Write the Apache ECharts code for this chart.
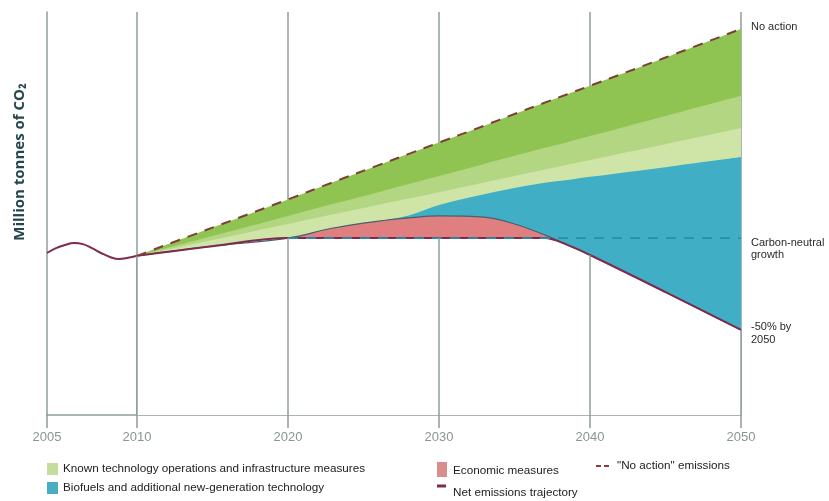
<!DOCTYPE html>
<html>
<head>
<meta charset="utf-8">
<script src="https://cdn.jsdelivr.net/npm/echarts@6/dist/echarts.min.js"></script>
<style>
  html, body { margin: 0; padding: 0; background: #fff; }
  #chart { width: 829px; height: 501px; }
</style>
</head>
<body>
<div id="chart"></div>
<script>
// Historical emissions, 2005–2010 (index, million tonnes of CO2)
const histYears = [2005, 2005.5, 2006, 2006.5, 2007, 2007.5, 2008, 2008.5, 2009, 2009.5, 2010];
const histEmissions = [402, 414, 422, 427, 424, 414, 402, 392, 387, 390, 395];

// Projection years
const projYears = [2010, 2015, 2020, 2023, 2026, 2028, 2030, 2033, 2035, 2037, 2038.5, 2040, 2045, 2050];
// Net emissions trajectory
const netEmissions = [395, 419, 439, 439, 439, 439, 439, 439, 439, 439, 422, 397, 305, 211];
// Emissions before economic measures
const beforeEconomic = [395, 419, 439, 464, 481, 489, 494, 491, 474, 447, 422, 397, 305, 211];
// Emissions before additional technologies and biofuels
const beforeAdditional = [395, 419, 439, 464, 481, 495, 521, 548, 563, 576, 583, 591, 615, 640];
// Emissions before infrastructure measures
const beforeInfrastructure = [395, 434, 474, 498, 522, 537, 553, 577, 593, 609, 621, 633, 672, 712];
// Emissions before operations measures
const beforeOperations = [395, 444, 494, 524, 553, 573, 593, 623, 643, 663, 677, 692, 742, 792];
// "No action" emissions
const noAction = [395, 465, 535, 578, 620, 648, 676, 718, 747, 775, 796, 817, 887, 958];

// Carbon-neutral growth cap from 2020
const carbonNeutralYears = [2020, 2050];
const carbonNeutralLevel = 439;

// Year ticks
const tickYears = [2005, 2010, 2020, 2030, 2040, 2050];

const SMOOTH = 0.35;
const axisGray = '#8e9c9c';
const netColor = '#7d2c4f';

const pairs = (xs, ys) => xs.map((x, i) => [x, ys[i]]);

function band(name, values, color, extra) {
  return Object.assign({
    type: 'line', name, xAxisIndex: 1, yAxisIndex: 1,
    data: pairs(projYears, values), smooth: SMOOTH, symbol: 'none', silent: true,
    lineStyle: { width: 0 }, areaStyle: { color, opacity: 1 }
  }, extra || {});
}

// Vertical year lines below the net trajectory
const gridYearLines = tickYears.filter(y => projYears.includes(y)).map(y => [
  { coord: [y, 0] },
  { coord: [y, netEmissions[projYears.indexOf(y)]] }
]);

const labelStyle = {
  color: '#8a9595', fontSize: 13, fontFamily: 'Liberation Sans', margin: 16,
  formatter: v => tickYears.includes(v) ? String(v) : ''
};

const bandFont = '12px Lato';
const noteFont = '11px "Liberation Sans"';
const legendFont = '11.7px "Liberation Sans"';

const option = {
  animation: false,
  backgroundColor: '#ffffff',
  grid: [
    { left: 47, width: 90, top: 12, height: 403 },
    { left: 137, width: 604, top: 12, height: 403 }
  ],
  xAxis: [
    {
      gridIndex: 0, type: 'value', min: 2005, max: 2010, interval: 5,
      axisLine: { lineStyle: { color: axisGray, width: 1.5 } },
      axisTick: { length: 13, lineStyle: { color: axisGray, width: 1.5 } },
      axisLabel: Object.assign({}, labelStyle, { showMaxLabel: false }),
      splitLine: { show: false }
    },
    {
      gridIndex: 1, type: 'value', min: 2010, max: 2050, interval: 10,
      axisLine: { lineStyle: { color: axisGray, width: 1.5 } },
      axisTick: { length: 13, lineStyle: { color: axisGray, width: 1.5 } },
      axisLabel: labelStyle,
      splitLine: { show: true, lineStyle: { color: axisGray, width: 1.5 } }
    }
  ],
  yAxis: [
    {
      gridIndex: 0, type: 'value', min: 0, max: 1000,
      axisLine: { show: true, lineStyle: { color: axisGray, width: 1.5 } },
      axisTick: { show: false }, axisLabel: { show: false }, splitLine: { show: false }
    },
    {
      gridIndex: 1, type: 'value', min: 0, max: 1000,
      axisLine: { show: false }, axisTick: { show: false },
      axisLabel: { show: false }, splitLine: { show: false }
    }
  ],
  series: [
    // Historical emissions
    {
      type: 'line', name: 'history', xAxisIndex: 0, yAxisIndex: 0,
      data: pairs(histYears, histEmissions), smooth: 0.4, symbol: 'none', silent: true,
      lineStyle: { color: netColor, width: 2 }
    },
    // Reduction bands, painted from the top one down
    band('Technology', noAction, '#8fc352'),
    band('Operations', beforeOperations, '#b3d683'),
    band('Infrastructure', beforeInfrastructure, '#cfe5a8'),
    band('Additional technologies and biofuels', beforeAdditional, '#40aec4'),
    band('Economic measures', beforeEconomic, '#e07f7f', {
      lineStyle: { width: 1.2, color: '#4a5f6c' }
    }),
    // Net emissions trajectory (area below it cleared to white)
    band('Net emissions trajectory', netEmissions, '#ffffff', {
      lineStyle: { width: 2, color: netColor },
      markLine: {
        silent: true, symbol: 'none', label: { show: false },
        lineStyle: { color: axisGray, width: 1.5, type: 'solid' },
        data: gridYearLines
      }
    }),
    // Carbon-neutral growth
    {
      type: 'line', name: 'Carbon-neutral growth', xAxisIndex: 1, yAxisIndex: 1,
      data: carbonNeutralYears.map(y => [y, carbonNeutralLevel]), symbol: 'none', silent: true,
      lineStyle: { color: '#2a8dab', width: 1.8, type: [10, 8] }
    },
    // "No action" emissions
    {
      type: 'line', name: 'No action', xAxisIndex: 1, yAxisIndex: 1,
      data: pairs(projYears, noAction), smooth: SMOOTH, symbol: 'none', silent: true,
      lineStyle: { color: '#7e3f37', width: 2, type: [10, 8] }
    }
  ],
  graphic: [
    { type: 'text', x: 20, y: 162, rotation: Math.PI / 2,
      style: { text: 'Million tonnes of CO₂', font: 'bold 15px "Open Sans"', fill: '#24464f', align: 'center', verticalAlign: 'middle' } },

    { type: 'text', x: 734, y: 76, style: { text: 'Technology', font: bandFont, fill: '#2b5a4c', align: 'right', verticalAlign: 'middle' } },
    { type: 'text', x: 734, y: 121, style: { text: 'Operations', font: bandFont, fill: '#2b5a4c', align: 'right', verticalAlign: 'middle' } },
    { type: 'text', x: 734, y: 151, style: { text: 'Infrastructure', font: bandFont, fill: '#2b5a4c', align: 'right', verticalAlign: 'middle' } },
    { type: 'text', x: 734, y: 189, style: { text: 'Additional', font: bandFont, fill: '#1d5a72', align: 'right', verticalAlign: 'middle' } },
    { type: 'text', x: 734, y: 207, style: { text: 'technologies', font: bandFont, fill: '#1d5a72', align: 'right', verticalAlign: 'middle' } },
    { type: 'text', x: 734, y: 224, style: { text: 'and biofuels', font: bandFont, fill: '#1d5a72', align: 'right', verticalAlign: 'middle' } },

    { type: 'text', x: 751, y: 27, style: { text: 'No action', font: noteFont, fill: '#2a2a2a', verticalAlign: 'middle' } },
    { type: 'text', x: 751, y: 243, style: { text: 'Carbon-neutral', font: noteFont, fill: '#2a2a2a', verticalAlign: 'middle' } },
    { type: 'text', x: 751, y: 255, style: { text: 'growth', font: noteFont, fill: '#2a2a2a', verticalAlign: 'middle' } },
    { type: 'text', x: 751, y: 327, style: { text: '-50% by', font: noteFont, fill: '#2a2a2a', verticalAlign: 'middle' } },
    { type: 'text', x: 751, y: 340, style: { text: '2050', font: noteFont, fill: '#2a2a2a', verticalAlign: 'middle' } },

    // Legend
    { type: 'rect', shape: { x: 47, y: 463, width: 11, height: 12 }, style: { fill: '#c4dd9c' } },
    { type: 'text', x: 63, y: 469, style: { text: 'Known technology operations and infrastructure measures', font: legendFont, fill: '#222', verticalAlign: 'middle' } },
    { type: 'rect', shape: { x: 47, y: 482, width: 11, height: 12 }, style: { fill: '#48adc0' } },
    { type: 'text', x: 63, y: 488, style: { text: 'Biofuels and additional new-generation technology', font: legendFont, fill: '#222', verticalAlign: 'middle' } },
    { type: 'rect', shape: { x: 437, y: 462, width: 10, height: 15 }, style: { fill: '#d98d8d' } },
    { type: 'text', x: 453, y: 471, style: { text: 'Economic measures', font: legendFont, fill: '#222', verticalAlign: 'middle' } },
    { type: 'line', shape: { x1: 437, y1: 486, x2: 446, y2: 486 }, style: { stroke: netColor, lineWidth: 3 } },
    { type: 'text', x: 453, y: 493, style: { text: 'Net emissions trajectory', font: legendFont, fill: '#222', verticalAlign: 'middle' } },
    { type: 'line', shape: { x1: 596, y1: 466, x2: 612, y2: 466 }, style: { stroke: '#8a3b3b', lineWidth: 2, lineDash: [5, 3] } },
    { type: 'text', x: 617, y: 466, style: { text: '"No action" emissions', font: legendFont, fill: '#222', verticalAlign: 'middle' } }
  ]
};

const chart = echarts.init(document.getElementById('chart'), null, { renderer: 'canvas' });
chart.setOption(option);
</script>
</body>
</html>
